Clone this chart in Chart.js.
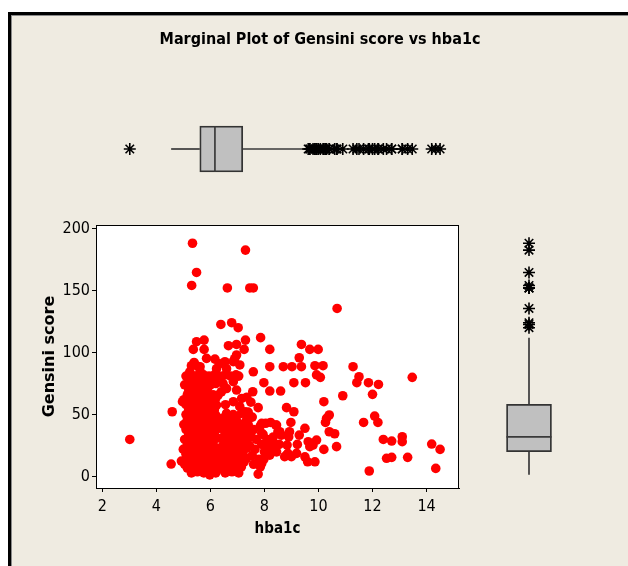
<!DOCTYPE html>
<html>
<head>
<meta charset="utf-8">
<script src="https://cdn.jsdelivr.net/npm/chart.js@4.4.1/dist/chart.umd.min.js"></script>
<style>
  html, body { margin: 0; padding: 0; background: #fff; }
  #page { position: relative; width: 628px; height: 566px; overflow: hidden; }
  #panel { position: absolute; left: 8px; top: 12px; width: 640px; height: 600px; background: #efebe1;
           border-left: 3px solid #000; border-top: 3px solid #000; box-shadow: inset 1px 1px 0 #8a8a8a; }
  canvas { position: absolute; }
</style>
</head>
<body>
<div id="page">
  <div id="panel"></div>
  <canvas id="mainChart" width="628" height="566" style="left:0;top:0"></canvas>
  <canvas id="topBox" width="363" height="100" style="left:96px;top:99px"></canvas>
  <canvas id="rightBox" width="100" height="263" style="left:479px;top:225px"></canvas>
</div>
<script>
const hba1cTicks = [2, 4, 6, 8, 10, 12, 14];
const gensiniTicks = [0, 50, 100, 150, 200];
const hba1cRange = [1.77, 15.2];
const gensiniRange = [-9.1, 202.7];
// low whisker, Q1, median, Q3, high whisker
const hba1cBox = [4.55, 5.61, 6.17, 7.2, 9.6];
const gensiniBox = [1.5, 20.1, 32, 58.3, 112];

// [hba1c, gensini] pairs
const samples = [
  [3.02,30],[5.34,188],[7.30,182.5],[5.49,164.5],[5.31,154],[6.63,152],[7.46,152],[7.59,152],[10.69,135.5],
  [6.39,122.6],[6.79,124],[7.03,120],[7.86,112],[5.49,108.7],[5.77,110],[5.37,102.5],[5.77,102.5],[6.67,105.5],
  [6.97,106.5],[7.30,110],[7.25,102.5],[8.20,102.5],[9.37,106.5],[9.68,102.5],[9.99,102.5],[9.29,95.8],
  [9.02,88.6],[9.37,88.6],[8.70,88.6],[8.20,88.6],[9.87,89.4],[10.17,89.4],[9.93,82],[10.07,80],[7.98,75.7],
  [9.09,75.7],[9.52,75.7],[8.20,69],[8.60,69],[7.57,68.4],[7.59,84.5],[10.90,65.2],[11.28,88.6],[11.50,80.5],
  [11.42,75.7],[11.85,75.7],[12.22,74.3],[12.00,66.3],[13.47,80],[10.20,60.4],[8.82,55.6],[9.09,52.3],
  [7.77,55.6],[4.59,52.3],[4.97,60.4],[10.40,49.7],[10.30,47],[10.26,43.7],[12.08,48.8],[12.20,43.7],
  [11.67,43.7],[8.98,43.7],[10.40,36.2],[10.60,34.6],[9.50,39],[9.29,33.5],[8.93,36.2],[8.90,32],[8.45,41.6],
  [8.57,36.2],[12.40,30],[12.71,28.7],[13.10,32.2],[13.10,28.2],[14.19,26.3],[14.50,22],[14.34,6.7],
  [11.88,4.6],[12.52,14.8],[12.71,15.6],[13.30,15.6],[10.67,24.2],[10.20,22],[9.93,29.5],[9.80,25.5],
  [9.62,28.2],[9.68,24.2],[9.87,12],[9.60,12],[9.50,16],[9.19,18.8],[9.00,16.1],[8.82,17.4],[9.22,26],
  [4.55,10.2],[4.93,12.6],[7.77,2.1],[5.98,1.5],
  [5.30,3],[5.52,4],[5.76,3],[5.95,4],[6.20,3],
  [5.15,7],[5.40,6],[5.62,7],[5.85,6],[6.10,7],[6.30,6],
  [5.05,10],[5.28,11],[5.50,10],[5.72,11],[5.96,10],[6.22,11],
  [5.20,14],[5.45,15],[5.66,14],[5.90,15],[6.15,14],
  [5.10,18],[5.35,19],[5.56,18],[5.80,19],[6.05,18],[6.30,19],
  [5.00,22],[5.25,23],[5.50,22],[5.70,23],[5.95,22],[6.20,23],
  [5.15,26],[5.40,27],[5.62,26],[5.85,27],[6.10,26],
  [5.05,30],[5.30,31],[5.52,30],[5.75,31],[6.00,30],[6.25,31],
  [5.20,34],[5.45,35],[5.66,34],[5.90,35],[6.15,34],
  [5.10,38],[5.35,39],[5.56,38],[5.80,39],[6.05,38],[6.30,39],
  [5.02,42],[5.25,43],[5.50,42],[5.70,43],[5.95,42],[6.20,43],
  [5.15,46],[5.40,47],[5.62,46],[5.85,47],[6.10,46],
  [5.10,50],[5.30,51],[5.55,50],[5.75,51],[6.00,50],
  [5.20,54],[5.45,55],[5.66,54],[5.90,55],[6.15,54],
  [5.10,58],[5.35,59],[5.60,58],[5.80,59],[6.05,58],
  [5.02,62],[5.25,63],[5.50,62],[5.70,63],[5.95,62],[6.20,63],
  [5.15,66],[5.40,67],[5.60,66],[5.85,67],[6.10,66],
  [5.20,70],[5.45,71],[5.65,70],[5.90,71],
  [5.05,74],[5.30,75],[5.55,74],[5.75,75],[6.00,74],[6.20,75],
  [5.20,78],[5.40,78],[5.65,79],[5.85,78],
  [5.10,81],[5.30,82],[5.50,81],[5.75,82],[5.95,81],[6.15,82],[6.35,81],[6.55,82],[6.75,81],[6.95,82],[7.05,81],
  [5.30,89.4],[5.49,89.4],[5.62,88.6],[5.86,95.3],[5.24,84.5],[5.62,85],[5.40,92],
  [6.55,3],[6.80,4],[7.05,3],
  [6.40,7],[6.65,8],[6.90,7],[7.15,8],
  [6.50,11],[6.75,12],[7.00,11],[7.25,12],
  [6.35,15],[6.60,16],[6.85,15],[7.10,16],[7.35,15],
  [6.45,19],[6.70,20],[6.95,19],[7.20,20],
  [6.35,23],[6.60,24],[6.85,23],[7.10,24],[7.35,23],
  [6.50,27],[6.75,28],[7.00,27],[7.25,28],
  [6.40,31],[6.65,32],[6.90,31],[7.15,32],[7.40,31],
  [6.55,35],[6.80,36],[7.05,35],[7.30,36],
  [6.40,39],[6.65,40],[6.90,39],[7.20,40],
  [6.50,43],[6.80,44],[7.05,43],[7.35,44],
  [6.45,47],[6.70,48],[6.95,47],
  [6.60,51],[6.85,50],[7.15,51],
  [6.29,65.8],[6.41,68.4],[6.60,71],[6.56,58],[6.85,60.4],[6.97,69.8],[7.16,63],[7.09,56.4],[7.28,52.3],
  [6.23,57.7],[6.20,49.6],[7.34,45.6],[6.17,94.7],[6.35,91],[6.54,92.6],[6.23,87],[6.60,87],[6.85,92.6],
  [7.09,90],[6.97,98],[6.90,95],[6.85,76.5],[6.47,75],[6.10,76.5],
  [7.40,42],[7.60,38],[7.85,41],[8.05,43],[7.50,33],[7.70,30],[7.95,34],[7.45,25],[7.65,22],[7.90,26],
  [8.10,30],[7.55,17],[7.80,14],[8.00,20],[7.60,10],[7.85,8],[7.40,52],[7.50,60],[7.35,64],[7.55,48],
  [7.90,43],[8.23,43.7],[8.42,41.6],[8.50,36],[8.33,32],[7.90,35],[8.08,25.5],[8.27,22.8],[8.20,17.4],
  [7.98,14],[7.90,10.7],[8.84,25.5],[8.87,18.8],[8.75,16.1],[8.63,33.5],[8.30,28],[8.55,26],[8.45,20]
];

const narrow = "'DejaVu Sans Condensed', 'DejaVu Sans', sans-serif";
Chart.defaults.font.family = narrow;
Chart.defaults.color = '#000';
Chart.defaults.animation = false;
Chart.defaults.events = [];
Chart.defaults.plugins.legend.display = false;
Chart.defaults.plugins.tooltip.enabled = false;

// white plot area with a black frame around it
const plotFrame = {
  id: 'plotFrame',
  beforeDraw(chart) {
    const a = chart.chartArea, ctx = chart.ctx;
    ctx.save();
    ctx.fillStyle = '#fff';
    ctx.fillRect(a.left, a.top, a.right - a.left, a.bottom - a.top);
    ctx.restore();
  },
  afterDraw(chart) {
    const a = chart.chartArea, ctx = chart.ctx;
    ctx.save();
    ctx.strokeStyle = '#000';
    ctx.lineWidth = 1;
    ctx.strokeRect(a.left + 0.5, a.top + 0.5, a.right - a.left - 1, a.bottom - a.top);
    ctx.restore();
  }
};

const tickFont = { family: narrow, size: 16 };

new Chart(document.getElementById('mainChart'), {
  type: 'scatter',
  data: {
    datasets: [{
      data: samples.map(p => ({ x: p[0], y: p[1] })),
      backgroundColor: '#ff0000',
      borderWidth: 0,
      pointRadius: 4.8
    }]
  },
  options: {
    responsive: false,
    layout: { autoPadding: false, padding: { left: 12, right: 0, top: 0, bottom: 28 } },
    plugins: {
      title: {
        display: true,
        text: 'Marginal Plot of Gensini score vs hba1c',
        font: { family: narrow, size: 16, weight: 'bold' },
        padding: { top: 30, bottom: 175.8 }
      }
    },
    scales: {
      x: {
        type: 'linear',
        min: hba1cRange[0],
        max: hba1cRange[1],
        afterBuildTicks: s => { s.ticks = hba1cTicks.map(v => ({ value: v })); },
        afterFit: s => { s.height = 50; },
        ticks: { font: tickFont, padding: 5, maxRotation: 0 },
        grid: { drawOnChartArea: false, tickLength: 4, color: '#000' },
        border: { color: '#000' },
        title: { display: true, text: 'hba1c', font: { family: narrow, size: 15, weight: 'bold' }, padding: 0 }
      },
      y: {
        type: 'linear',
        min: gensiniRange[0],
        max: gensiniRange[1],
        afterBuildTicks: s => { s.ticks = gensiniTicks.map(v => ({ value: v })); },
        afterFit: s => { s.width = 84; },
        ticks: { font: tickFont, padding: 2 },
        grid: { drawOnChartArea: false, tickLength: 4, color: '#000' },
        border: { color: '#000' },
        title: {
          display: true, text: 'Gensini score',
          font: { family: 'DejaVu Sans', size: 16, weight: 'bold' },
          padding: { top: 28, bottom: 0 }
        }
      },
      // empty right-hand axis that reserves the room of the side box plot
      side: {
        type: 'linear',
        position: 'right',
        min: 0,
        max: 1,
        afterFit: s => { s.width = 169; },
        ticks: { display: false },
        grid: { display: false },
        border: { display: false }
      }
    }
  },
  plugins: [plotFrame]
});

// box, whiskers, median and asterisk outliers for one marginal
function boxDatasets(stats, outliers, horizontal, half) {
  const pt = (v, o) => horizontal ? { x: v, y: o } : { x: o, y: v };
  const line = data => ({ type: 'line', data, borderColor: '#3a3a3a', borderWidth: 1.7, pointRadius: 0, fill: false, order: 1 });
  return [
    {
      type: 'bar',
      indexAxis: horizontal ? 'y' : 'x',
      data: [horizontal ? { x: [stats[1], stats[3]], y: 0 } : { x: 0, y: [stats[1], stats[3]] }],
      barThickness: half * 2,
      backgroundColor: '#c0c0c0',
      borderColor: '#333',
      borderWidth: 1.8,
      borderSkipped: false,
      order: 2
    },
    line([pt(stats[0], 0), pt(stats[1], 0)]),
    line([pt(stats[3], 0), pt(stats[4], 0)]),
    line([pt(stats[2], -half), pt(stats[2], half)]),
    {
      type: 'scatter',
      data: outliers,
      pointStyle: 'star',
      pointRadius: 6,
      borderColor: '#000',
      backgroundColor: '#000',
      borderWidth: 1.6,
      order: 0
    }
  ];
}

const hbaOutliers = samples
  .filter(p => p[0] < hba1cBox[0] || p[0] > hba1cBox[4])
  .map(p => ({ x: p[0], y: 0 }));
const gensiniOutliers = samples
  .filter(p => p[1] < gensiniBox[0] || p[1] > gensiniBox[4])
  .map(p => ({ x: 0, y: p[1] }));

const hidden = (min, max) => ({ type: 'linear', display: false, offset: false, grace: 0, min, max });

new Chart(document.getElementById('topBox'), {
  type: 'scatter',
  data: { datasets: boxDatasets(hba1cBox, hbaOutliers, true, 23) },
  options: {
    responsive: false,
    layout: { autoPadding: false, padding: 0 },
    scales: { x: hidden(hba1cRange[0], hba1cRange[1]), y: hidden(-50, 50) }
  }
});

new Chart(document.getElementById('rightBox'), {
  type: 'scatter',
  data: { datasets: boxDatasets(gensiniBox, gensiniOutliers, false, 22.5) },
  options: {
    responsive: false,
    layout: { autoPadding: false, padding: 0 },
    scales: { x: hidden(-50, 50), y: hidden(gensiniRange[0], gensiniRange[1]) }
  }
});
</script>
</body>
</html>
